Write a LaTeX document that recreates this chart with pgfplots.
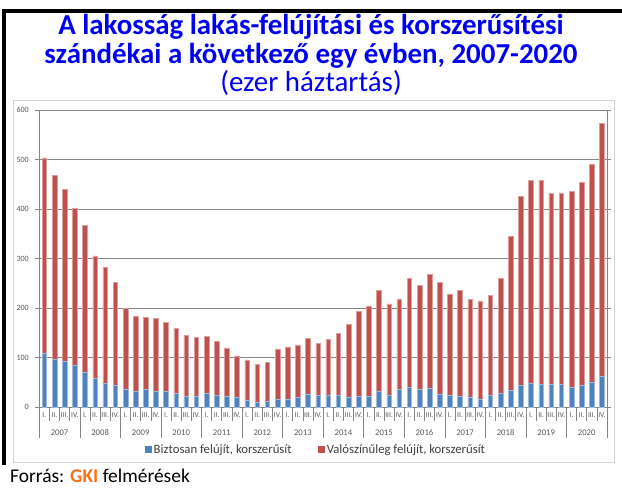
\documentclass[border=0pt]{standalone}
\usepackage{fontspec}
\setmainfont{Carlito}
\usepackage{pgfplots}
\pgfplotsset{compat=1.18}
\usepackage{pgfplotstable}
\definecolor{bblue}{RGB}{79,129,189}
\definecolor{bred}{RGB}{192,80,77}
\definecolor{ttl}{RGB}{0,0,240}
\definecolor{gki}{RGB}{247,112,27}
\definecolor{axgray}{RGB}{134,134,134}
\definecolor{lbl}{RGB}{89,89,89}
\definecolor{boxgray}{RGB}{210,210,210}

\pgfplotstableread{
x blue red
0 110 394
1 97 372
2 94 346
3 84 318
4 71 297
5 58 248
6 49 234
7 44 208
8 36 164
9 32 152
10 36 145
11 32 148
12 32 139
13 28 132
14 22 123
15 23 118
16 28 115
17 25 109
18 22 98
19 20 84
20 15 81
21 11 76
22 13 78
23 17 101
24 17 105
25 20 106
26 27 112
27 24 105
28 25 112
29 24 125
30 21 147
31 22 172
32 22 183
33 32 204
34 25 184
35 36 183
36 40 221
37 36 211
38 38 231
39 27 225
40 24 205
41 23 213
42 21 197
43 17 198
44 25 201
45 28 233
46 35 311
47 44 382
48 48 411
49 46 413
50 47 385
51 46 387
52 40 396
53 44 410
54 51 440
55 63 511
}\data

\begin{document}
\begin{tikzpicture}[x=1bp,y=1bp]
\path[use as bounding box] (0,0) rectangle (622,488);
\fill[white] (0,0) rectangle (622,488);
\draw[black, line width=3.5bp] (4,23) -- (4,477) -- (622,477);
\draw[boxgray, line width=1bp] (13,387) rectangle (614,25);
\node[font=\fontsize{29}{30}\selectfont\bfseries, text=ttl, anchor=base, inner sep=0] at (311,453.7) {A lakosság lakás-felújítási és korszerűsítési};
\node[font=\fontsize{29}{30}\selectfont\bfseries, text=ttl, anchor=base, inner sep=0] at (311,424) {szándékai a következő egy évben, 2007-2020};
\node[font=\fontsize{29}{30}\selectfont, text=ttl, anchor=base, inner sep=0] at (311,396.3) {(ezer háztartás)};
\node[font=\fontsize{19.5}{23}\selectfont, anchor=base west, inner sep=0] at (10,5.5) {Forrás: \textcolor{gki}{\bfseries GKI} felmérések};

\begin{axis}[
  at={(39.3bp,80.7bp)}, anchor=south west,
  scale only axis, width=567.7bp, height=297bp,
  xmin=-0.5, xmax=55.5, ymin=0, ymax=600,
  ytick={0,100,...,600},
  ymajorgrids,
  major grid style={draw=axgray, line width=0.8bp},
  axis line style={draw=axgray, line width=0.8bp},
  ybar stacked, bar width=4.6bp,
  xtick=data,
  xticklabels={I.,II.,III.,IV.,I.,II.,III.,IV.,I.,II.,III.,IV.,I.,II.,III.,IV.,I.,II.,III.,IV.,I.,II.,III.,IV.,I.,II.,III.,IV.,I.,II.,III.,IV.,I.,II.,III.,IV.,I.,II.,III.,IV.,I.,II.,III.,IV.,I.,II.,III.,IV.,I.,II.,III.,IV.,I.,II.,III.,IV.},
  xtick style={draw=none},
  ytick style={draw=axgray, line width=0.8bp},
  tick align=outside, major tick length=4bp,
  yticklabel style={font=\fontsize{8.1}{9}\selectfont, text=lbl, xshift=-3bp},
  xticklabel style={font=\fontsize{7.5}{8}\selectfont, text=lbl, anchor=center, yshift=-4bp},
  /pgf/number format/assume math mode=true,
  clip=false,
  legend style={at={(0.487,-0.144)}, anchor=center, draw=none, fill=none,
    legend columns=2, font=\fontsize{12.8}{14}\selectfont, text=black!75,
    /tikz/every even column/.append style={column sep=24bp},
    inner sep=0pt},
]
\addplot[fill=bblue, draw=bblue!55!white, line width=0.5bp,
  legend image code/.code={\fill[bblue] (0bp,-2.6bp) rectangle (6.7bp,4.1bp);}]
  table[x=x, y=blue] {\data};
\addlegendentry{Biztosan felújít, korszerűsít}
\addplot[fill=bred, draw=bred!55!white, line width=0.5bp,
  legend image code/.code={\fill[bred] (0bp,-2.6bp) rectangle (6.7bp,4.1bp);}]
  table[x=x, y=red] {\data};
\addlegendentry{Valószínűleg felújít, korszerűsít}
\pgfplotsinvokeforeach{0,...,55}{
  \draw[axgray, line width=0.6bp] (axis cs:{#1-0.5},0) -- ++(0bp,-14bp);
}
\draw[axgray, line width=0.6bp] (axis cs:55.5,0) -- ++(0bp,-30.7bp);
\pgfplotsinvokeforeach{0,...,13}{
  \draw[axgray, line width=0.6bp] (axis cs:{4*#1-0.5},0) -- ++(0bp,-30.7bp);
  \node[font=\fontsize{8.7}{9}\selectfont, text=lbl, anchor=center] at (axis cs:{4*#1+1.5},0) [yshift=-25bp] {\the\numexpr2007+#1\relax};
}
\end{axis}
\end{tikzpicture}
\end{document}
